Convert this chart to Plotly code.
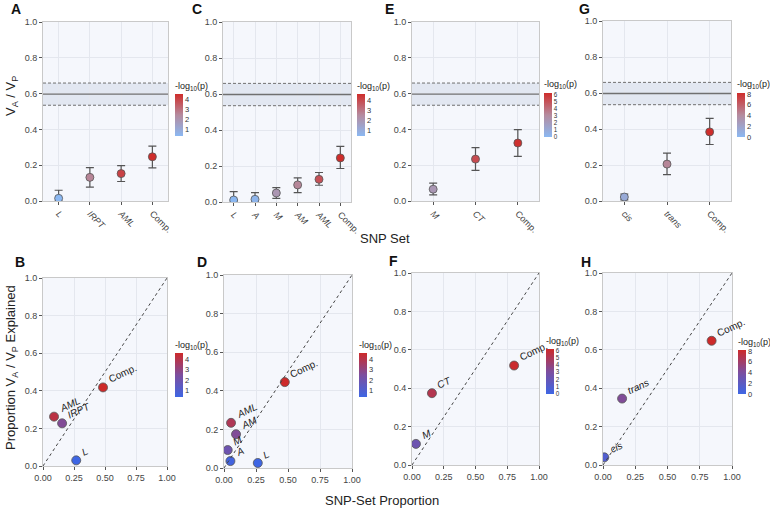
import plotly.graph_objects as go

W, H = 770, 510

# ---------------- data ----------------
total_h2 = 0.597
total_lo = 0.535
total_hi = 0.659

A_sets = ["L", "IRPT", "AML", "Comp."]
A_h2 = [0.015, 0.132, 0.153, 0.247]
A_hi = [0.060, 0.186, 0.198, 0.307]
A_lo = [0.0, 0.077, 0.109, 0.185]
A_logp = [0.37, 2.6, 4.1, 4.57]
B_prop = [0.268, 0.154, 0.089, 0.484]
B_expl = [0.030, 0.227, 0.2625, 0.418]

C_sets = ["L", "A", "M", "AM", "AML", "Comp."]
C_h2 = [0.011, 0.015, 0.050, 0.095, 0.126, 0.245]
C_hi = [0.058, 0.052, 0.080, 0.134, 0.164, 0.309]
C_lo = [0.0, 0.0, 0.020, 0.052, 0.093, 0.186]
C_logp = [0.4, 0.55, 2.0, 2.6, 3.8, 4.6]
D_prop = [0.264, 0.050, 0.029, 0.094, 0.055, 0.475]
D_expl = [0.026, 0.036, 0.093, 0.175, 0.234, 0.445]

E_sets = ["M", "CT", "Comp."]
E_h2 = [0.066, 0.234, 0.324]
E_hi = [0.100, 0.298, 0.399]
E_lo = [0.034, 0.171, 0.249]
E_logp = [2.3, 5.2, 6.1]
F_prop = [0.031, 0.157, 0.804]
F_expl = [0.110, 0.374, 0.518]

G_sets = ["cis", "trans", "Comp."]
G_h2 = [0.022, 0.205, 0.384]
G_hi = [0.039, 0.266, 0.459]
G_lo = [0.006, 0.146, 0.314]
G_logp = [1.3, 4.3, 8.2]
H_prop = [0.010, 0.148, 0.842]
H_expl = [0.040, 0.346, 0.647]

# colour ranges of the legends: min, max, tick step, tick font size
ranges = [(0.37, 4.57, 1, 7.5), (0.4, 4.6, 1, 7.5), (0.0, 6.2, 1, 6.3), (0.0, 8.2, 2, 7.5)]

FONT = "Liberation Sans, Arial, sans-serif"
TOP_CS = [[0, "#8bb8f2"], [0.5, "#b58b9e"], [1, "#cf2d2b"]]
BOT_CS = [[0, "#3e66e4"], [0.5, "#7d4e9e"], [1, "#cd2a2a"]]
BG = "#f5f7fc"
GRID = "#e4e7ee"
BORDER = "#c9c9c9"

# pixel boxes (left, right, top, bottom)
top_boxes = [(43, 168, 22, 201), (223, 351, 22, 202), (412, 539, 22, 201), (603, 731, 21, 201)]
bot_boxes = [(43, 167, 278, 466), (224, 352, 275, 468), (412, 539, 273, 465), (603, 732, 273, 465)]
# colour bar: left x, top y, bottom y
cb_top = [(175, 94, 136), (357, 94, 136), (544, 93, 137), (737, 93, 137)]
cb_bot = [(175, 353, 397), (359, 353, 397), (546, 349, 394), (738, 350, 394)]
letters_top = [("A", 16, 9), ("C", 197, 9), ("E", 390, 9), ("G", 584, 9)]
letters_bot = [("B", 20, 262), ("D", 202, 262), ("F", 393, 261), ("H", 586, 262)]

top_data = [
    (A_sets, A_h2, A_hi, A_lo, A_logp),
    (C_sets, C_h2, C_hi, C_lo, C_logp),
    (E_sets, E_h2, E_hi, E_lo, E_logp),
    (G_sets, G_h2, G_hi, G_lo, G_logp),
]
bot_data = [
    (A_sets, B_prop, B_expl, A_logp),
    (C_sets, D_prop, D_expl, C_logp),
    (E_sets, F_prop, F_expl, E_logp),
    (G_sets, H_prop, H_expl, G_logp),
]


def fmt(s):
    return s if s == "Comp." else "<i>%s</i>" % s


def xdom(l, r):
    return [l / W, r / W]


def ydom(t, b):
    return [1 - b / H, 1 - t / H]


def names(n):
    suf = "" if n == 1 else str(n)
    return "x" + suf, "y" + suf, "xaxis" + suf, "yaxis" + suf


def colorbar(cb, dt, fs):
    x, t, b = cb
    return dict(x=x / W, xanchor="left", y=1 - b / H, yanchor="bottom",
                len=b - t, lenmode="pixels", thickness=8, xpad=0, ypad=0,
                outlinewidth=0, tick0=0, dtick=dt, ticks="",
                tickfont=dict(size=fs, color="#333", family=FONT))


fig = go.Figure()
layout = dict(
    width=W, height=H, margin=dict(l=0, r=0, t=0, b=0, autoexpand=False),
    paper_bgcolor="white", plot_bgcolor=BG, showlegend=False,
    font=dict(family=FONT, color="#222"),
)
shapes = []
annotations = []

axis_common = dict(showline=True, mirror=True, linecolor=BORDER, linewidth=1,
                   gridcolor=GRID, gridwidth=1, zeroline=False, automargin=False,
                   ticks="outside", ticklen=3, tickcolor="#555",
                   tickfont=dict(size=9, color="#444", family=FONT))


def cb_title(cb):
    x, t, b = cb
    return dict(text="-log<sub>10</sub>(p)", x=(x - 2) / W, y=1 - (t - 8) / H,
                xref="paper", yref="paper", showarrow=False, xanchor="left",
                yanchor="middle", font=dict(size=9, color="#222"))


for i in range(4):
    # ---------- top panel ----------
    xa, ya, xan, yan = names(i + 1)
    sets, h2, hi, lo, lp = top_data[i]
    l, r, t, b = top_boxes[i]
    cmin, cmax, dt, fs = ranges[i]
    layout[xan] = dict(axis_common, domain=xdom(l, r), anchor=ya,
                       type="category", tickangle=45,
                       tickvals=sets, ticktext=[fmt(s) for s in sets],
                       range=[-0.5, len(sets) - 0.5])
    layout[yan] = dict(axis_common, domain=ydom(t, b), anchor=xa,
                       range=[0, 1], tickvals=[0, 0.2, 0.4, 0.6, 0.8, 1.0],
                       ticktext=["0.0", "0.2", "0.4", "0.6", "0.8", "1.0"])
    shapes.append(dict(type="rect", xref="%s domain" % xa, yref=ya, x0=0, x1=1,
                       y0=total_lo, y1=total_hi, fillcolor="#e2e7f1", line_width=0, layer="below"))
    shapes.append(dict(type="line", xref="%s domain" % xa, yref=ya, x0=0, x1=1,
                       y0=total_h2, y1=total_h2, line=dict(color="#707070", width=1.4)))
    for yv in (total_lo, total_hi):
        shapes.append(dict(type="line", xref="%s domain" % xa, yref=ya, x0=0, x1=1,
                           y0=yv, y1=yv, line=dict(color="#707070", width=1, dash="3px,2px")))
    fig.add_trace(go.Scatter(
        x=sets, y=h2, xaxis=xa, yaxis=ya, mode="markers",
        error_y=dict(type="data", symmetric=False,
                     array=[a - c for a, c in zip(hi, h2)],
                     arrayminus=[c - a for a, c in zip(lo, h2)],
                     color="#555", thickness=1.2, width=4),
        marker=dict(size=8, color=lp, colorscale=TOP_CS, cmin=cmin, cmax=cmax,
                    line=dict(color="#555", width=0.8),
                    colorbar=colorbar(cb_top[i], dt, fs)),
    ))
    annotations.append(cb_title(cb_top[i]))
    lt, lx, ly = letters_top[i]
    annotations.append(dict(text="<b>%s</b>" % lt, x=lx / W, y=1 - ly / H, xref="paper",
                            yref="paper", showarrow=False, font=dict(size=14, color="#111"),
                            xanchor="center", yanchor="middle"))

    # ---------- bottom panel ----------
    xb, yb, xbn, ybn = names(i + 5)
    sets, px, py, lp = bot_data[i]
    l, r, t, b = bot_boxes[i]
    layout[xbn] = dict(axis_common, domain=xdom(l, r), anchor=yb, range=[0, 1],
                       tickvals=[0, 0.25, 0.5, 0.75, 1.0],
                       ticktext=["0.00", "0.25", "0.50", "0.75", "1.00"])
    layout[ybn] = dict(axis_common, domain=ydom(t, b), anchor=xb, range=[0, 1],
                       tickvals=[0, 0.2, 0.4, 0.6, 0.8, 1.0],
                       ticktext=["0.0", "0.2", "0.4", "0.6", "0.8", "1.0"])
    shapes.append(dict(type="line", xref=xb, yref=yb, x0=0, y0=0, x1=1, y1=1,
                       line=dict(color="#444", width=1, dash="dot")))
    fig.add_trace(go.Scatter(
        x=px, y=py, xaxis=xb, yaxis=yb, mode="markers",
        marker=dict(size=9, color=lp, colorscale=BOT_CS, cmin=cmin, cmax=cmax,
                    line=dict(color="#555", width=0.8),
                    colorbar=colorbar(cb_bot[i], dt, fs)),
    ))
    annotations.append(cb_title(cb_bot[i]))
    for s, xv, yv in zip(sets, px, py):
        annotations.append(dict(text=fmt(s), x=xv, y=yv, xref=xb, yref=yb, showarrow=False,
                                textangle=-25, xanchor="left", yanchor="bottom",
                                xshift=1, yshift=0, font=dict(size=10, color="#222")))
    lt, lx, ly = letters_bot[i]
    annotations.append(dict(text="<b>%s</b>" % lt, x=lx / W, y=1 - ly / H, xref="paper",
                            yref="paper", showarrow=False, font=dict(size=14, color="#111"),
                            xanchor="center", yanchor="middle"))

# axis titles
annotations.append(dict(text="V<sub>A</sub> / V<sub>P</sub>", x=11 / W, y=1 - 96 / H,
                        xref="paper", yref="paper", showarrow=False, textangle=-90,
                        font=dict(size=13, color="#222"), xanchor="center", yanchor="middle"))
annotations.append(dict(text="Proportion V<sub>A</sub> / V<sub>P</sub> Explained", x=11 / W,
                        y=1 - 368 / H, xref="paper", yref="paper", showarrow=False,
                        textangle=-90, font=dict(size=13, color="#222"),
                        xanchor="center", yanchor="middle"))
annotations.append(dict(text="SNP Set", x=385 / W, y=1 - 238 / H, xref="paper", yref="paper",
                        showarrow=False, font=dict(size=13, color="#222"),
                        xanchor="center", yanchor="middle"))
annotations.append(dict(text="SNP-Set Proportion", x=382 / W, y=1 - 500 / H, xref="paper",
                        yref="paper", showarrow=False, font=dict(size=13, color="#222"),
                        xanchor="center", yanchor="middle"))

layout["shapes"] = shapes
layout["annotations"] = annotations
fig.update_layout(**layout)
fig.write_html("out.html", config={"displayModeBar": False},
               post_script="document.body.style.margin='0';")
